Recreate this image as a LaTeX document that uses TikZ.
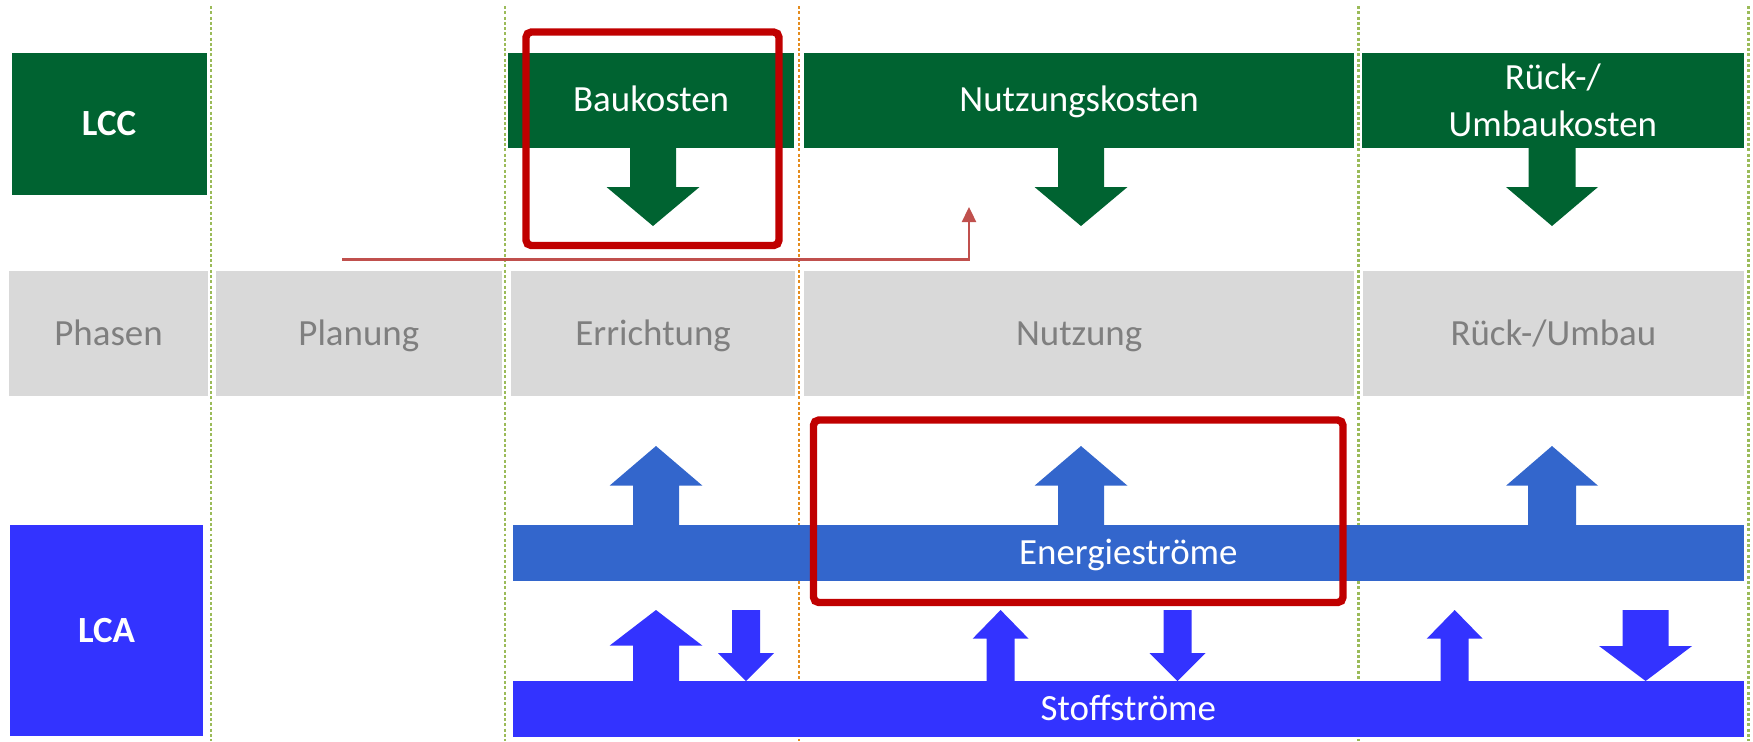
\documentclass[tikz,border=0pt]{standalone}
\usepackage{fontspec}
\setmainfont{Carlito}
\usetikzlibrary{arrows.meta}
\definecolor{lccgreen}{RGB}{0,99,49}
\definecolor{phasegray}{RGB}{217,217,217}
\definecolor{phasetext}{RGB}{127,127,127}
\definecolor{energyblue}{RGB}{51,102,204}
\definecolor{stoffblue}{RGB}{51,51,255}
\definecolor{hlred}{RGB}{192,0,0}
\definecolor{linkred}{RGB}{192,80,77}
\definecolor{divgreen}{RGB}{155,187,89}
\definecolor{divorange}{RGB}{228,140,30}
\newcommand{\blockarrow}[7]{%
  \fill[#1] ({#2-#6},#3) -- ({#2-#6},#4) -- ({#2-#7},#4) -- (#2,#5) -- ({#2+#7},#4) -- ({#2+#6},#4) -- ({#2+#6},#3) -- cycle;}
\tikzset{
  box/.style={inner sep=0pt, outer sep=0pt, anchor=north west, align=center,
    font=\fontsize{10.5}{12.8}\selectfont},
  oneline/.style={text height=6.64pt, text depth=0pt},
  lccbase/.style={box, fill=lccgreen, text=white},
  lccbar/.style={lccbase, oneline},
  phasebox/.style={box, oneline, fill=phasegray, text=phasetext},
  energybar/.style={box, oneline, fill=energyblue, text=white},
  stoffbar/.style={box, oneline, fill=stoffblue, text=white},
  divider/.style={line width=0.85pt, dash pattern=on 0.85pt off 0.65pt},
  highlight/.style={draw=hlred, line width=2.1pt, rounded corners=1.5pt},
  link/.style={draw=linkred, line width=0.75pt, -{Triangle[length=4.3pt,width=4pt]}},
}
\begin{document}
\begin{tikzpicture}[x=0.01cm, y=-0.01cm]
\useasboundingbox (0,0) rectangle (1753,741);
% dividers
\foreach \xx in {211,505,1358,1748} \draw[divider, divgreen] (\xx,6) -- (\xx,741);
\draw[divider, divorange] (799,6) -- (799,741);
% LCC row
\node[lccbar, minimum width=1.95cm, minimum height=1.423cm, font=\fontsize{10.5}{12.8}\selectfont\bfseries] (lcc) at (11.5,52.7) {LCC};
\node[lccbar, minimum width=2.86cm, minimum height=0.95cm] (bau) at (508,52.7) {Baukosten};
\node[lccbar, minimum width=5.50cm, minimum height=0.95cm] (nutzk) at (804,52.7) {Nutzungskosten};
\node[lccbase, minimum width=3.815cm, minimum height=0.95cm, font=\fontsize{10.5}{13.2}\selectfont] (rueckk) at (1362,52.7) {Rück-/\\Umbaukosten};
\blockarrow{lccgreen}{653}{147}{187}{226}{23}{46.5}
\blockarrow{lccgreen}{1081}{147}{187}{226}{23}{46.5}
\blockarrow{lccgreen}{1552}{147}{187}{226}{23.5}{46}
% Phases row
\node[phasebox, minimum width=1.982cm, minimum height=1.25cm] (phasen) at (9.4,271) {Phasen};
\node[phasebox, minimum width=2.865cm, minimum height=1.25cm] (planung) at (215.5,271) {Planung};
\node[phasebox, minimum width=2.84cm, minimum height=1.25cm] (errichtung) at (511,271) {Errichtung};
\node[phasebox, minimum width=5.50cm, minimum height=1.25cm] (nutzung) at (804,271) {Nutzung};
\node[phasebox, minimum width=3.805cm, minimum height=1.25cm] (rueckbau) at (1363,271) {Rück-/Umbau};
% LCA row
\node[stoffbar, minimum width=1.93cm, minimum height=2.107cm, font=\fontsize{10.5}{12.8}\selectfont\bfseries] (lca) at (10,525) {LCA};
\blockarrow{energyblue}{656}{526}{485.7}{446}{23}{46.5}
\blockarrow{energyblue}{1081}{526}{485.7}{446}{23}{46.5}
\blockarrow{energyblue}{1552}{526}{485.7}{446}{24}{46}
\node[energybar, minimum width=12.31cm, minimum height=0.56cm] (energie) at (512.5,525) {Energieströme};
\blockarrow{stoffblue}{656}{682}{645.7}{610}{23}{46.5}
\blockarrow{stoffblue}{746}{610}{653}{681}{14}{28}
\blockarrow{stoffblue}{1000.6}{682}{638.7}{610}{14}{28}
\blockarrow{stoffblue}{1177.5}{610}{653}{681}{14}{28}
\blockarrow{stoffblue}{1454.7}{682}{638.7}{610}{14}{28}
\blockarrow{stoffblue}{1645.6}{610}{646}{681}{23}{46.5}
\node[stoffbar, minimum width=12.31cm, minimum height=0.557cm] (stoff) at (512.5,681) {Stoffströme};
% highlights
\draw[highlight] (526,32) rectangle (779,245.5);
\draw[highlight] (813.5,420) rectangle (1343,602.5);
% link connector
\coordinate (linkstart) at (342,259.3);
\coordinate (linkend) at (969,207);
\draw[link] (linkstart) -| (linkend);
\end{tikzpicture}
\end{document}
